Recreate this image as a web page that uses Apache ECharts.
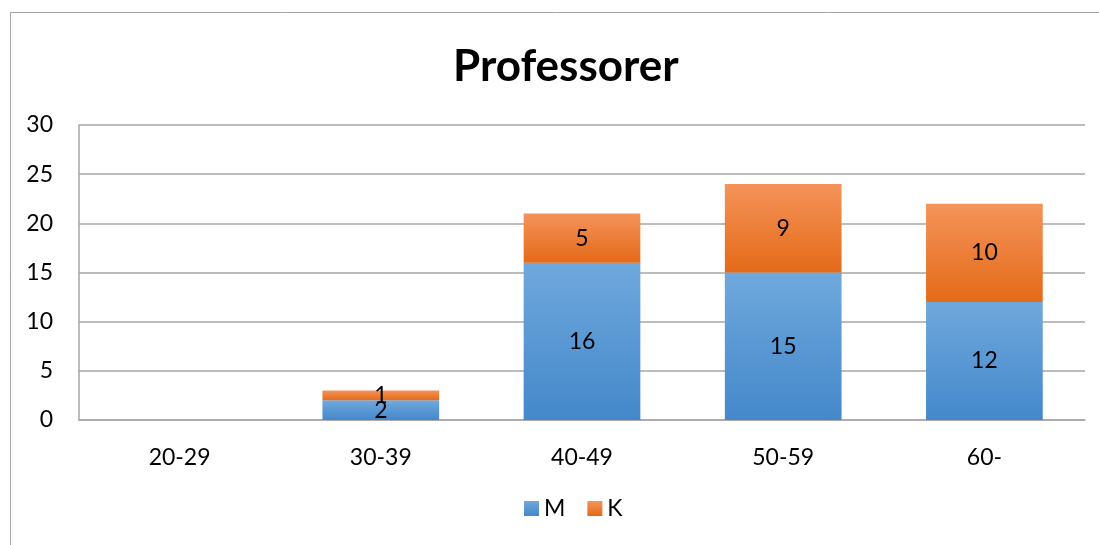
<!DOCTYPE html>
<html><head><meta charset="utf-8">
<script src="https://cdn.jsdelivr.net/npm/echarts@6/dist/echarts.min.js"></script>
<style>html,body{margin:0;padding:0;background:#fff}#c{width:1099px;height:545px}</style>
</head><body><div id="c"></div>
<script>
const categories = ['20-29','30-39','40-49','50-59','60-'];
const seriesM = [0, 2, 16, 15, 12];
const seriesK = [0, 1, 5, 9, 10];
const yTicks = { min: 0, max: 30, interval: 5 };

const font = 'Lato, "Open Sans", sans-serif';
const grad = (a, b) => new echarts.graphic.LinearGradient(0, 0, 0, 1, [{offset: 0, color: a}, {offset: 1, color: b}]);
const lbl = { show: true, position: 'inside', color: '#000', fontSize: 23, fontFamily: font,
  formatter: p => p.value === 0 ? '' : p.value };

const chart = echarts.init(document.getElementById('c'));
chart.setOption({
  animation: false,
  backgroundColor: '#fff',
  graphic: [{ type: 'rect', shape: { x: 10.5, y: 12.5, width: 1200, height: 700 }, style: { fill: 'none', stroke: '#a6a6a6', lineWidth: 1 }, silent: true }],
  title: { text: 'Professorer', left: 448, top: 40, textStyle: { fontSize: 44, fontWeight: 'bold', color: '#000', fontFamily: font } },
  legend: { bottom: 20, left: 519, itemWidth: 15, itemHeight: 15, itemGap: 22, icon: 'rect',
    textStyle: { fontSize: 23, color: '#000', fontFamily: font }, data: ['M', 'K'] },
  grid: { left: 79, right: 14, top: 125, bottom: 125, containLabel: false },
  xAxis: { type: 'category', data: categories,
    axisLine: { lineStyle: { color: '#a6a6a6', width: 1.5 } }, axisTick: { show: false },
    axisLabel: { color: '#000', fontSize: 23, fontFamily: font, margin: 26 } },
  yAxis: { type: 'value', min: yTicks.min, max: yTicks.max, interval: yTicks.interval,
    axisLine: { show: true, lineStyle: { color: '#a6a6a6', width: 1.5 } }, axisTick: { show: false },
    splitLine: { lineStyle: { color: '#a6a6a6', width: 1.5 } },
    axisLabel: { color: '#000', fontSize: 23, fontFamily: font, margin: 26 } },
  series: [
    { name: 'M', type: 'bar', stack: 's', data: seriesM, barWidth: '58%', label: lbl,
      itemStyle: { color: grad('#6fa8dc', '#4488cb') } },
    { name: 'K', type: 'bar', stack: 's', data: seriesK, barWidth: '58%', label: lbl,
      itemStyle: { color: grad('#f4935a', '#e46a18') } }
  ]
});
</script></body></html>
